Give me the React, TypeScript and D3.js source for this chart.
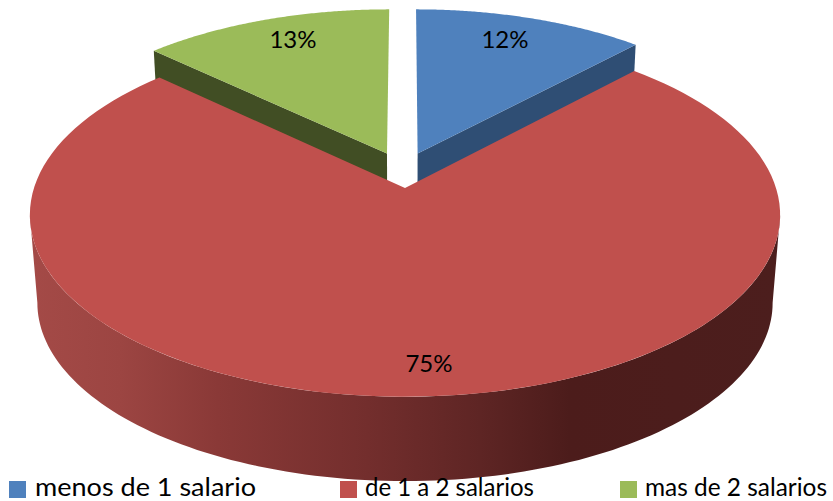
import React from "react";
import * as d3 from "d3";

const categories = ["menos de 1 salario", "de 1 a 2 salarios", "mas de 2 salarios"];
const shares = [12, 75, 13];
const shareLabels = ["12%", "75%", "13%"];
const topColors = ["#4f81bd", "#c0504d", "#9bbb59"];
const wallColors = ["#2f4e74", "#8a3836", "#414e24"];

const width = 833;
const height = 501;

// pull of each slice out of the disc, in disc units, and its radius
const pull = [
  { x: 0.035, y: 0.2, r: 0.98 },
  { x: 0, y: 0, r: 1 },
  { x: -0.05, y: 0.2, r: 0.98 },
];

// the perspective of the disc: far side shrinks
const cx = 405;
const persp = 0.148;
const spanX = 371;
const apexY = 188;
const spanY = -150;

const project = (X: number, Y: number): [number, number] => {
  const w = 1 + persp * Y;
  return [cx + (spanX * X) / w, (apexY + spanY * Y) / w];
};

// the lower face sits further from the eye
const lowerFace = ([x, y]: [number, number]): [number, number] => [
  cx + 0.98 * (x - cx),
  303 + 0.98 * (y - 215),
];

const pie = d3
  .pie<number>()
  .sort(null)
  .startAngle(0)
  .endAngle(2 * Math.PI);

const slices = pie(shares);
const line = d3.line();

const onRim = (a: number, i: number) =>
  project(pull[i].r * Math.sin(a) + pull[i].x, pull[i].r * Math.cos(a) + pull[i].y);

const rim = (a0: number, a1: number, i: number) =>
  d3
    .range(0, 121)
    .map((k) => a0 + ((a1 - a0) * k) / 120)
    .map((a) => onRim(a, i));

const apex = (i: number) => project(pull[i].x, pull[i].y);

const radialWall = (i: number, a: number) => {
  const top0 = apex(i);
  const top1 = onRim(a, i);
  return line([top0, top1, lowerFace(top1), lowerFace(top0)]) + "Z";
};

const sliceTop = (i: number) => {
  const s = slices[i];
  return line([apex(i), ...rim(s.startAngle, s.endAngle, i)]) + "Z";
};

// front of the red slice, between both silhouette points
const frontFrom = (98.5 * Math.PI) / 180;
const frontTo = (261.5 * Math.PI) / 180;
const frontRim = rim(frontFrom, frontTo, 1);
const frontWall = line([...frontRim, ...frontRim.map(lowerFace).reverse()]) + "Z";

const wallStops = [
  { at: 0.0, color: "#a44a47" },
  { at: 0.12, color: "#9c4542" },
  { at: 0.25, color: "#8a3937" },
  { at: 0.45, color: "#732e2d" },
  { at: 0.6, color: "#5e2524" },
  { at: 0.72, color: "#4c1c1b" },
  { at: 1.0, color: "#4c1e1d" },
];

const labelSpots = [
  { x: 505, y: 48 },
  { x: 429, y: 372 },
  { x: 293, y: 48 },
];

const legendSpots = [
  { box: 9, text: 35, len: 221 },
  { box: 340, text: 365, len: 169 },
  { box: 620, text: 645, len: 182 },
];

const font = "Lato, 'Open Sans', sans-serif";

export default function App() {
  return (
    <svg
      width={width}
      height={height}
      style={{ position: "absolute", left: 0, top: 0, background: "#fff" }}
    >
      <defs>
        <linearGradient id="wall" gradientUnits="userSpaceOnUse" x1={30} x2={780} y1={0} y2={0}>
          {wallStops.map((d) => (
            <stop key={d.at} offset={d.at} stopColor={d.color} />
          ))}
        </linearGradient>
      </defs>

      {/* the two pulled slices go first, the big one covers their walls */}
      <path d={radialWall(0, slices[0].endAngle)} fill={wallColors[0]} />
      <path d={sliceTop(0)} fill={topColors[0]} />
      <path d={radialWall(2, slices[2].startAngle)} fill={wallColors[2]} />
      <path d={sliceTop(2)} fill={topColors[2]} />

      <path d={frontWall} fill="url(#wall)" />
      <path d={sliceTop(1)} fill={topColors[1]} />

      {shareLabels.map((t, i) => (
        <text
          key={t}
          x={labelSpots[i].x}
          y={labelSpots[i].y}
          textAnchor="middle"
          fontFamily={font}
          fontSize={24}
          fill="#000"
        >
          {t}
        </text>
      ))}

      {categories.map((c, i) => (
        <g key={c}>
          <rect x={legendSpots[i].box} y={481} width={17} height={17} fill={topColors[i]} />
          <text
            x={legendSpots[i].text}
            y={496}
            fontFamily={font}
            fontSize={25}
            textLength={legendSpots[i].len}
            lengthAdjust="spacingAndGlyphs"
            fill="#000"
          >
            {c}
          </text>
        </g>
      ))}
    </svg>
  );
}
